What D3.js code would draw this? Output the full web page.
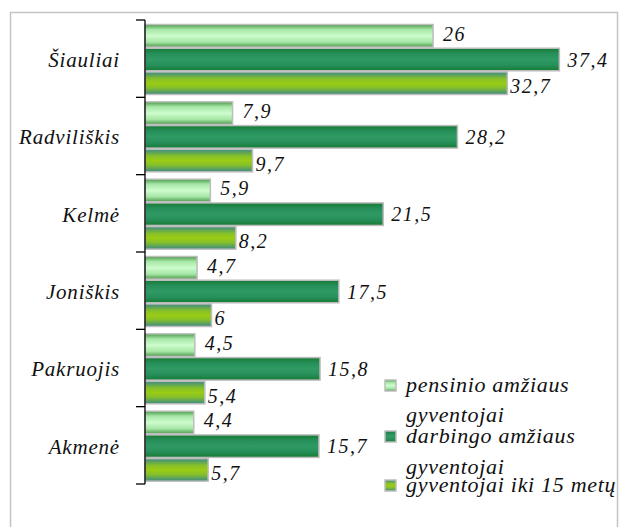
<!DOCTYPE html>
<html>
<head>
<meta charset="UTF-8">
<script src="https://cdn.jsdelivr.net/npm/d3@7"></script>
<style>
  body { margin: 0; background: #fff; }
</style>
</head>
<body>
<div id="chart"></div>
<script>
const cities = ["Šiauliai", "Radviliškis", "Kelmė", "Joniškis", "Pakruojis", "Akmenė"];
const seriesNames = ["pensinio amžiaus gyventojai", "darbingo amžiaus gyventojai", "gyventojai iki 15 metų"];
const pensinio = [26, 7.9, 5.9, 4.7, 4.5, 4.4];
const darbingo = [37.4, 28.2, 21.5, 17.5, 15.8, 15.7];
const iki15 = [32.7, 9.7, 8.2, 6, 5.4, 5.7];
const legendLines = [["pensinio amžiaus", "gyventojai"], ["darbingo amžiaus", "gyventojai"], ["gyventojai iki 15 metų"]];

const seriesValues = [pensinio, darbingo, iki15];
const serif = "'Liberation Serif', 'Times New Roman', Times, serif";

let width = 619, height = 527;

const svg = d3.select("#chart").append("svg")
  .attr("width", width)
  .attr("height", height);

// gradients for the bars
const defs = svg.append("defs");
const grads = [
  [["0%", "#4a9a4a"], ["22%", "#a6e6a6"], ["50%", "#cdfccd"], ["78%", "#a6e6a6"], ["100%", "#4a9a4a"]],
  [["0%", "#157a33"], ["25%", "#27905a"], ["50%", "#2f9a64"], ["75%", "#27905a"], ["100%", "#157a33"]],
  [["0%", "#3b8a84"], ["30%", "#86c02a"], ["50%", "#9acc14"], ["70%", "#86c02a"], ["100%", "#3b8a84"]]
];
grads.forEach((stops, i) => {
  const g = defs.append("linearGradient").attr("id", "grad" + i)
    .attr("x1", 0).attr("y1", 0).attr("x2", 0).attr("y2", 1);
  stops.forEach(s => g.append("stop").attr("offset", s[0]).attr("stop-color", s[1]));
});

// outer frame
svg.append("rect")
  .attr("x", 10.5).attr("y", 12.5)
  .attr("width", 607).attr("height", 530)
  .attr("fill", "none")
  .attr("stroke", "#c4c4c4")
  .attr("stroke-width", 1.5);

const x = d3.scaleLinear().domain([0, 40]).range([145, 145 + 40 * 11.08]);
const y = d3.scaleBand().domain(cities).range([20, 484]);
const ySub = d3.scaleBand().domain([0, 1, 2]).range([4.5, 74.5]).paddingInner(0.05);

// bars
const groups = svg.append("g").selectAll("g")
  .data(cities)
  .join("g")
  .attr("transform", d => "translate(0," + y(d) + ")");

groups.selectAll("rect")
  .data((d, ci) => seriesValues.map((vals, si) => ({ si: si, v: vals[ci] })))
  .join("rect")
  .attr("x", x(0))
  .attr("y", d => ySub(d.si))
  .attr("width", d => x(d.v) - x(0))
  .attr("height", ySub.bandwidth())
  .attr("fill", d => "url(#grad" + d.si + ")")
  .attr("stroke", "#bdbdbd")
  .attr("stroke-width", 1.5);

// value labels
const labelDx = [10, 8, 3];
const labelDy = [-2, 0, 3];
groups.selectAll("text.val")
  .data((d, ci) => seriesValues.map((vals, si) => ({ si: si, v: vals[ci] })))
  .join("text")
  .attr("class", "val")
  .attr("x", d => x(d.v) + labelDx[d.si])
  .attr("y", d => ySub(d.si) + ySub.bandwidth() / 2 + labelDy[d.si])
  .attr("dy", "0.35em")
  .attr("font-family", serif)
  .attr("font-style", "italic")
  .attr("fill", "#111")
  .style("font-size", "20px")
  .style("letter-spacing", "1.5px")
  .text(d => String(d.v).replace(".", ","));

// axis line with ticks at band boundaries
const axisG = svg.append("g");
axisG.append("line")
  .attr("x1", 145).attr("x2", 145)
  .attr("y1", 20).attr("y2", 484)
  .attr("stroke", "#000").attr("stroke-width", 1.3);
const bounds = cities.map(c => y(c)).concat([y.range()[1]]);
axisG.selectAll("line.tick")
  .data(bounds)
  .join("line")
  .attr("class", "tick")
  .attr("x1", 136).attr("x2", 145)
  .attr("y1", d => d).attr("y2", d => d)
  .attr("stroke", "#000").attr("stroke-width", 1.3);

// category labels
svg.append("g").selectAll("text")
  .data(cities)
  .join("text")
  .attr("x", 120)
  .attr("y", d => y(d) + y.bandwidth() / 2 + 1)
  .attr("dy", "0.35em")
  .attr("text-anchor", "end")
  .attr("font-family", serif)
  .attr("font-style", "italic")
  .attr("fill", "#111")
  .style("font-size", "21px")
  .style("letter-spacing", "0.8px")
  .text(d => d);

// legend
const legendY = [392, 443, 492];
const wrapDy = [30, 31, 0];
const legend = svg.append("g").selectAll("g")
  .data(seriesNames)
  .join("g")
  .attr("transform", (d, i) => "translate(0," + legendY[i] + ")");

legend.append("rect")
  .attr("x", 385).attr("y", -12)
  .attr("width", 11).attr("height", 11)
  .attr("fill", (d, i) => "url(#grad" + i + ")")
  .attr("stroke", "#bdbdbd")
  .attr("stroke-width", 1.5);

legend.each(function(d, i) {
  d3.select(this).append("text")
    .attr("x", 406)
    .attr("y", 0)
    .attr("font-family", serif)
    .attr("font-style", "italic")
    .attr("fill", "#111")
    .style("font-size", "22px")
    .style("letter-spacing", "0.7px")
    .selectAll("tspan")
    .data(legendLines[i])
    .join("tspan")
    .attr("x", 406)
    .attr("dy", (t, j) => j === 0 ? 0 : wrapDy[i])
    .text(t => t);
});
</script>
</body>
</html>
